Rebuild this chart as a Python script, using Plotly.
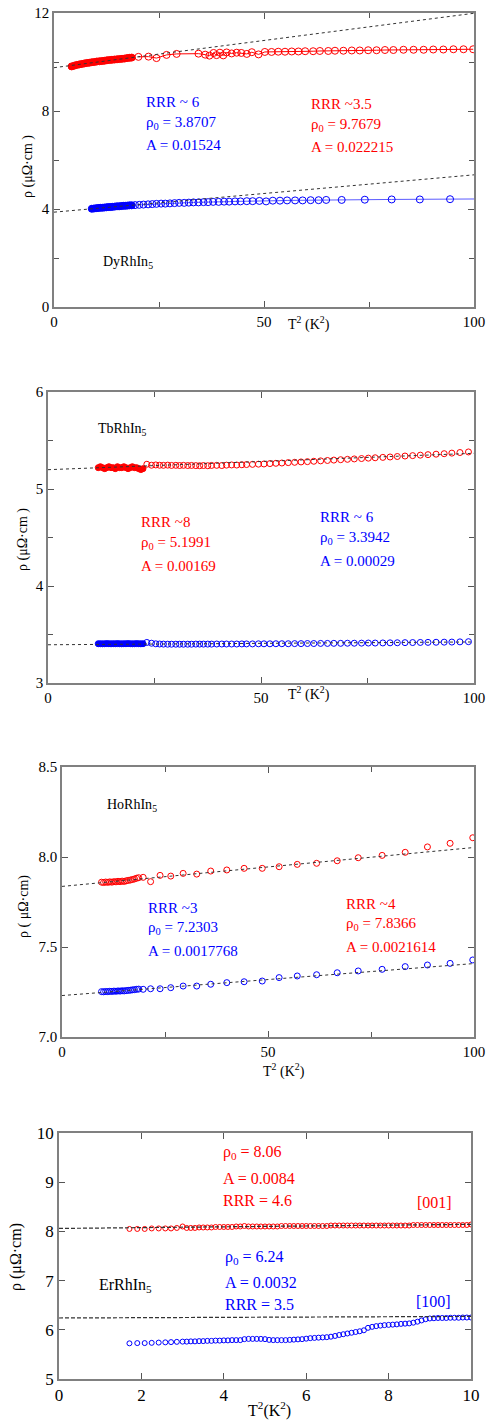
import plotly.graph_objects as go

W, H = 487, 1423
FONT = "Liberation Serif"
RED = "#ff0000"
BLUE = "#0000ff"

# ---------------- Panel 1: DyRhIn5 ----------------
dy_red_dense_x = [4.2, 4.8, 5.4, 6.0, 6.6, 7.2, 7.8, 8.4, 9.0, 9.6, 10.2, 10.8, 11.4, 12.0, 12.6,
                  13.2, 13.8, 14.4, 15.0, 15.6, 16.2, 16.8, 17.4, 18.0, 18.5]
dy_red_dense_y = [9.82, 9.85, 9.88, 9.90, 9.92, 9.94, 9.96, 9.97, 9.99, 10.00, 10.02, 10.03, 10.04, 10.05, 10.07,
                  10.08, 10.09, 10.10, 10.11, 10.12, 10.13, 10.14, 10.16, 10.17, 10.18]
dy_red_x = [20.1, 22.5, 24.4, 26.8, 29.2, 34.4, 36.0, 37.0, 38.0, 38.7, 39.5, 40.3, 41.1, 42.3,
            43.5, 44.6, 45.9, 47.1, 48.7, 50.2, 51.8, 53.4, 55.0, 56.6, 58.2, 59.8, 61.7, 63.3, 65.3, 66.9,
            68.9, 70.9, 72.8, 74.8, 76.8, 78.8, 80.8, 83.2, 85.6, 88.0, 90.3, 92.7, 95.1, 97.5, 99.8]
dy_red_y = [10.21, 10.22, 10.16, 10.29, 10.33, 10.34, 10.30, 10.26, 10.37, 10.28, 10.38, 10.27, 10.39, 10.35,
            10.38, 10.37, 10.33, 10.40, 10.31, 10.41, 10.41, 10.42, 10.42, 10.43, 10.43, 10.44, 10.44, 10.45, 10.45, 10.46,
            10.46, 10.47, 10.47, 10.48, 10.48, 10.49, 10.49, 10.50, 10.50, 10.50, 10.51, 10.51, 10.52, 10.52, 10.52]
dy_blue_dense_x = [9.0, 9.5, 10.0, 10.5, 11.0, 11.5, 12.0, 12.5, 13.0, 13.5, 14.0, 14.5, 15.0, 15.5, 16.0,
                   16.5, 17.0, 17.5, 18.0, 18.5]
dy_blue_dense_y = [4.01, 4.02, 4.03, 4.04, 4.05, 4.05, 4.06, 4.07, 4.08, 4.08, 4.09, 4.10, 4.11, 4.11, 4.12,
                   4.13, 4.13, 4.14, 4.15, 4.15]
dy_blue_x = [19.3, 20.3, 21.3, 22.4, 23.4, 24.4, 25.5, 26.5, 27.6, 28.7, 29.8, 31.0, 32.1, 33.2, 34.4,
             35.6, 36.7, 37.9, 39.2, 40.5, 41.7, 43.1, 44.4, 45.9, 47.3, 48.9, 50.5, 52.1, 53.8, 55.5,
             57.4, 59.2, 61.1, 63.0, 64.8, 68.5, 74.0, 80.4, 87.1, 94.3, 101.5]
dy_blue_y = [4.16, 4.17, 4.18, 4.19, 4.20, 4.21, 4.22, 4.22, 4.23, 4.24, 4.25, 4.25, 4.26, 4.27, 4.27,
             4.28, 4.28, 4.29, 4.29, 4.30, 4.30, 4.31, 4.31, 4.32, 4.32, 4.33, 4.31, 4.34, 4.34, 4.35,
             4.35, 4.35, 4.36, 4.36, 4.37, 4.37, 4.38, 4.39, 4.39, 4.40, 4.41]
dy_fit = {"red": (9.7679, 0.022215), "blue": (3.8707, 0.01524)}

# ---------------- Panel 2: TbRhIn5 ----------------
tb_dense_x = [11.8, 12.3, 12.8, 13.3, 13.8, 14.3, 14.8, 15.3, 15.8, 16.3, 16.8, 17.3, 17.8, 18.3, 18.8,
              19.3, 19.8, 20.3, 20.8, 21.3, 21.8, 22.3]
tb_red_dense_y = [5.22, 5.23, 5.22, 5.21, 5.22, 5.23, 5.22, 5.22, 5.21, 5.23, 5.22, 5.22, 5.23, 5.22, 5.21,
                  5.22, 5.23, 5.22, 5.22, 5.21, 5.20, 5.21]
tb_blue_dense_y = [3.405, 3.405, 3.404, 3.405, 3.406, 3.405, 3.404, 3.405, 3.405, 3.406, 3.405, 3.404, 3.405, 3.405, 3.406,
                   3.405, 3.404, 3.405, 3.406, 3.405, 3.404, 3.405]
tb_x = [23.2, 24.3, 25.3, 26.2, 27.1, 28.1, 29.0, 30.0, 30.9, 31.8, 32.8, 33.7, 34.7, 35.6, 36.5, 37.5, 38.4,
        39.6, 40.8, 41.9, 43.1, 44.3, 45.5, 46.6, 48.0, 49.4, 50.7, 52.1, 53.5, 54.9, 56.4, 57.9, 59.4, 60.9,
        62.4, 64.0, 65.6, 67.1, 68.7, 70.3, 71.9, 73.6, 75.2, 76.8, 78.6, 80.3, 82.0, 83.8, 85.6, 87.4, 89.2,
        91.1, 93.0, 94.8, 96.7, 98.7]
tb_red_y = [5.255, 5.245, 5.248, 5.245, 5.244, 5.246, 5.243, 5.244, 5.242, 5.244,
            5.242, 5.243, 5.241, 5.240, 5.242, 5.240, 5.243, 5.244, 5.242, 5.246,
            5.248, 5.247, 5.250, 5.252, 5.254, 5.256, 5.258, 5.262, 5.265, 5.268,
            5.272, 5.275, 5.279, 5.282, 5.286, 5.290, 5.294, 5.298, 5.302, 5.306,
            5.310, 5.314, 5.318, 5.322, 5.326, 5.330, 5.335, 5.340, 5.344, 5.349,
            5.354, 5.359, 5.364, 5.370, 5.376, 5.382]
tb_blue_y = [3.418, 3.410, 3.404, 3.402, 3.401, 3.400, 3.400, 3.400, 3.400, 3.400,
             3.400, 3.400, 3.401, 3.401, 3.401, 3.401, 3.401, 3.402, 3.402, 3.402,
             3.402, 3.402, 3.403, 3.403, 3.403, 3.404, 3.404, 3.404, 3.405, 3.405,
             3.405, 3.406, 3.406, 3.407, 3.407, 3.408, 3.408, 3.409, 3.409, 3.410,
             3.410, 3.411, 3.412, 3.412, 3.413, 3.414, 3.415, 3.416, 3.417, 3.418,
             3.419, 3.420, 3.421, 3.422, 3.424, 3.426]
tb_fit = {"red": (5.1991, 0.00169), "blue": (3.3942, 0.00029)}

# ---------------- Panel 3: HoRhIn5 ----------------
ho_dense_x = [9.6, 10.1, 10.6, 11.1, 11.6, 12.1, 12.6, 13.1, 13.6, 14.1, 14.6, 15.1, 15.6, 16.1, 16.6,
              17.1, 17.6, 18.1, 18.6]
ho_red_dense_y = [7.860, 7.858, 7.861, 7.859, 7.862, 7.860, 7.863, 7.862, 7.865, 7.863, 7.866, 7.864, 7.868,
                  7.870, 7.872, 7.875, 7.878, 7.882, 7.885]
ho_blue_dense_y = [7.252, 7.251, 7.253, 7.252, 7.254, 7.253, 7.255, 7.254, 7.256, 7.255, 7.257, 7.256, 7.258,
                   7.259, 7.260, 7.262, 7.263, 7.265, 7.266]
ho_x = [19.7, 21.5, 23.8, 26.4, 29.4, 32.7, 36.1, 40.0, 44.2, 48.6, 52.7, 57.1, 61.8, 66.8, 71.9, 77.7,
        83.3, 88.7, 94.2, 99.7]
ho_red_y = [7.887, 7.863, 7.898, 7.894, 7.909, 7.905, 7.922, 7.928, 7.937, 7.937, 7.946, 7.959, 7.965,
            7.979, 7.996, 8.009, 8.026, 8.056, 8.076, 8.107]
ho_blue_y = [7.265, 7.268, 7.268, 7.274, 7.283, 7.283, 7.293, 7.302, 7.307, 7.311, 7.330, 7.339, 7.346,
             7.357, 7.367, 7.376, 7.391, 7.400, 7.409, 7.428]
ho_fit = {"red": (7.8366, 0.0021614), "blue": (7.2303, 0.0017768)}

# ---------------- Panel 4: ErRhIn5 ----------------
er_x = [1.71, 1.90, 2.08, 2.25, 2.42, 2.58, 2.72, 2.86, 3.0,
        3.1, 3.2, 3.3, 3.4, 3.5, 3.6, 3.7, 3.8, 3.9, 4.0,
        4.1, 4.2, 4.3, 4.4, 4.5, 4.6, 4.7, 4.8, 4.9, 5.0,
        5.1, 5.2, 5.3, 5.4, 5.5, 5.6, 5.7, 5.8, 5.9, 6.0,
        6.1, 6.2, 6.3, 6.4, 6.5, 6.6, 6.7, 6.8, 6.9, 7.0,
        7.1, 7.2, 7.3, 7.4, 7.5, 7.6, 7.7, 7.8, 7.9, 8.0,
        8.1, 8.2, 8.3, 8.4, 8.5, 8.6, 8.7, 8.8, 8.9, 9.0,
        9.1, 9.2, 9.3, 9.4, 9.5, 9.6, 9.7, 9.8, 9.9, 10.0]
er_red_y = [8.05, 8.05, 8.05, 8.06, 8.06, 8.06, 8.06, 8.07, 8.10,
            8.07, 8.07, 8.07, 8.08, 8.08, 8.08, 8.08, 8.09, 8.09, 8.09,
            8.09, 8.09, 8.10, 8.10, 8.11, 8.10, 8.10, 8.10, 8.10, 8.10,
            8.10, 8.10, 8.10, 8.11, 8.11, 8.11, 8.11, 8.11, 8.11, 8.11,
            8.11, 8.11, 8.11, 8.11, 8.11, 8.12, 8.12, 8.12, 8.12, 8.12,
            8.12, 8.12, 8.12, 8.12, 8.12, 8.12, 8.12, 8.12, 8.12, 8.12,
            8.12, 8.12, 8.12, 8.12, 8.12, 8.13, 8.13, 8.13, 8.13, 8.13,
            8.13, 8.13, 8.13, 8.13, 8.13, 8.13, 8.13, 8.13, 8.13, 8.14]
er_blue_y = [5.725, 5.73, 5.73, 5.735, 5.74, 5.745, 5.75, 5.755, 5.76,
             5.76, 5.765, 5.765, 5.77, 5.77, 5.775, 5.775, 5.78, 5.78, 5.785,
             5.785, 5.79, 5.79, 5.79, 5.81, 5.815, 5.815, 5.815, 5.815, 5.81,
             5.795, 5.79, 5.79, 5.79, 5.79, 5.795, 5.80, 5.805, 5.81, 5.82,
             5.83, 5.835, 5.84, 5.845, 5.85, 5.86, 5.875, 5.895, 5.91, 5.925,
             5.94, 5.955, 5.97, 5.99, 6.04, 6.06, 6.075, 6.085, 6.095, 6.10,
             6.105, 6.11, 6.12, 6.125, 6.13, 6.145, 6.165, 6.19, 6.215, 6.23,
             6.235, 6.24, 6.24, 6.24, 6.245, 6.245, 6.245, 6.25, 6.25, 6.25]
er_fit = {"red": (8.06, 0.0084), "blue": (6.24, 0.0032)}

# ---------------- layout geometry (pixels) ----------------
panels = [
    dict(l=54, r=474, t=13, b=307, xr=[0, 100], yr=[0, 12], xd=50, xm=25, yd=4, ym=2, yfmt="", fs=15),
    dict(l=48, r=474, t=392, b=683, xr=[0, 100], yr=[3, 6], xd=50, xm=25, yd=1, ym=0.5, yfmt="", fs=15),
    dict(l=62, r=474, t=767, b=1037, xr=[0, 100], yr=[7, 8.5], xd=50, xm=25, yd=0.5, ym=None, yfmt=".1f", fs=15),
    dict(l=59, r=471, t=1133, b=1379, xr=[0, 10], yr=[5, 10], xd=2, xm=None, yd=1, ym=None, yfmt="", fs=17),
]


def pxx(x):
    return x / W


def pxy(y):
    return 1 - y / H


fig = go.Figure()


def axname(i, a):
    return a if i == 0 else f"{a}{i + 1}"


def add(i, x, y, color, size, filled=False, line=None, mode="markers"):
    fig.add_trace(go.Scatter(
        x=x, y=y, mode=mode, xaxis=axname(i, "x"), yaxis=axname(i, "y"),
        marker=dict(symbol="circle" if filled else "circle-open", size=size, color=color,
                    line=dict(width=1, color=color)),
        line=dict(color=line or color, width=1), showlegend=False, hoverinfo="skip"))


def add_fit(i, rho0, a, xr, dash="dot", width=1):
    xs = [xr[0], xr[1]]
    ys = [rho0 + a * xs[0], rho0 + a * xs[1]]
    fig.add_trace(go.Scatter(x=xs, y=ys, mode="lines", xaxis=axname(i, "x"), yaxis=axname(i, "y"),
                             line=dict(color="#333333", width=width, dash=dash),
                             showlegend=False, hoverinfo="skip"))


# Panel 1
add(0, dy_red_dense_x, dy_red_dense_y, RED, 7, filled=True, mode="lines+markers")
add(0, dy_red_x, dy_red_y, RED, 7, mode="lines+markers")
add(0, dy_blue_dense_x, dy_blue_dense_y, BLUE, 7, filled=True, mode="lines+markers")
add(0, dy_blue_x, dy_blue_y, BLUE, 7, line="#5a5aff", mode="lines+markers")
add_fit(0, *dy_fit["red"], [0, 100])
add_fit(0, *dy_fit["blue"], [0, 100])

# Panel 2
add(1, tb_dense_x, tb_red_dense_y, RED, 6, filled=True)
add(1, tb_x, tb_red_y, RED, 6)
add(1, tb_dense_x, tb_blue_dense_y, BLUE, 6, filled=True)
add(1, tb_x, tb_blue_y, BLUE, 6)
add_fit(1, *tb_fit["red"], [0, 100])
add_fit(1, *tb_fit["blue"], [0, 100])

# Panel 3
add(2, ho_dense_x, ho_red_dense_y, RED, 6)
add(2, ho_x, ho_red_y, RED, 6)
add(2, ho_dense_x, ho_blue_dense_y, BLUE, 6)
add(2, ho_x, ho_blue_y, BLUE, 6)
add_fit(2, *ho_fit["red"], [0, 100])
add_fit(2, *ho_fit["blue"], [0, 100])

# Panel 4
add(3, er_x, er_red_y, RED, 5)
add(3, er_x, er_blue_y, BLUE, 5)
add_fit(3, *er_fit["red"], [0, 10], dash="4px,2px", width=1.2)
add_fit(3, *er_fit["blue"], [0, 10], dash="4px,2px", width=1.2)

layout = dict(width=W, height=H, margin=dict(l=0, r=0, t=0, b=0, pad=0, autoexpand=False),
              paper_bgcolor="white", plot_bgcolor="white",
              font=dict(family=FONT, color="black", size=15), showlegend=False)

for i, p in enumerate(panels):
    common = dict(showline=True, linecolor="#808080", linewidth=1.5, mirror="ticks",
                  ticks="inside", ticklen=6, tickcolor="#555555", tickwidth=1, automargin=False,
                  showgrid=False, zeroline=False, tickfont=dict(family=FONT, size=p["fs"], color="black"))
    xa = dict(common, domain=[pxx(p["l"]), pxx(p["r"])], range=p["xr"], dtick=p["xd"], tick0=0,
              anchor=axname(i, "y"))
    if p["xm"]:
        xa["minor"] = dict(dtick=p["xm"], ticks="inside", ticklen=5, tickcolor="#555555", showgrid=False)
    ya = dict(common, domain=[pxy(p["b"]), pxy(p["t"])], range=p["yr"], dtick=p["yd"], tick0=0,
              anchor=axname(i, "x"))
    if p["yfmt"]:
        ya["tickformat"] = p["yfmt"]
    if p["ym"]:
        ya["minor"] = dict(dtick=p["ym"], ticks="inside", ticklen=5, tickcolor="#555555", showgrid=False)
    layout["xaxis" if i == 0 else f"xaxis{i + 1}"] = xa
    layout["yaxis" if i == 0 else f"yaxis{i + 1}"] = ya

annotations = []


def note(x, y, text, color="black", size=15, angle=0, xanchor="left"):
    annotations.append(dict(x=pxx(x), y=pxy(y), xref="paper", yref="paper", text=text, showarrow=False,
                            xanchor=xanchor, yanchor="middle", textangle=angle,
                            font=dict(family=FONT, size=size, color=color)))


# Panel 1 texts
note(144, 102, "RRR ~ 6", BLUE)
note(144, 123, "ρ<sub>0</sub> = 3.8707", BLUE)
note(144, 145, "A = 0.01524", BLUE)
note(309, 104, "RRR ~3.5", RED)
note(309, 125, "ρ<sub>0</sub> = 9.7679", RED)
note(309, 147, "A = 0.022215", RED)
note(101, 262, "DyRhIn<sub>5</sub>", "black", 14)
note(28, 167, "ρ (μΩ·cm )", "black", 14, -90, "center")
note(309, 323, "T<sup>2</sup> (K<sup>2</sup>)", "black", 14, 0, "center")

# Panel 2 texts
note(96, 429, "TbRhIn<sub>5</sub>", "black", 14)
note(139, 522, "RRR ~8", RED)
note(139, 543, "ρ<sub>0</sub> = 5.1991", RED)
note(139, 566, "A = 0.00169", RED)
note(318, 517, "RRR ~ 6", BLUE)
note(318, 538, "ρ<sub>0</sub> = 3.3942", BLUE)
note(318, 561, "A = 0.00029", BLUE)
note(23, 540, "ρ (μΩ·cm )", "black", 14, -90, "center")
note(309, 693, "T<sup>2</sup> (K<sup>2</sup>)", "black", 14, 0, "center")

# Panel 3 texts
note(105, 805, "HoRhIn<sub>5</sub>", "black", 14)
note(146, 908, "RRR ~3", BLUE)
note(146, 928, "ρ<sub>0</sub> = 7.2303", BLUE)
note(146, 951, "A = 0.0017768", BLUE)
note(344, 904, "RRR ~4", RED)
note(344, 924, "ρ<sub>0</sub> = 7.8366", RED)
note(344, 947, "A = 0.0021614", RED)
note(24, 907, "ρ ( μΩ·cm)", "black", 14, -90, "center")
note(284, 1070, "T<sup>2</sup> (K<sup>2</sup>)", "black", 14, 0, "center")

# Panel 4 texts
note(221, 1152, "ρ<sub>0</sub> = 8.06", RED, 16)
note(221, 1178, "A = 0.0084", RED, 16)
note(221, 1200, "RRR = 4.6", RED, 16)
note(415, 1202, "[001]", RED, 16)
note(223, 1257, "ρ<sub>0</sub> = 6.24", BLUE, 16)
note(223, 1282, "A = 0.0032", BLUE, 16)
note(223, 1304, "RRR = 3.5", BLUE, 16)
note(414, 1301, "[100]", BLUE, 16)
note(97, 1285, "ErRhIn<sub>5</sub>", "black", 16)
note(16, 1257, "ρ (μΩ·cm)", "black", 16, -90, "center")
note(269, 1409, "T<sup>2</sup>(K<sup>2</sup>)", "black", 16, 0, "center")

layout["annotations"] = annotations
fig.update_layout(**layout)

fig.write_html(
    "out.html",
    post_script="document.documentElement.style.margin='0';document.body.style.margin='0';"
                "document.body.style.overflow='hidden';document.documentElement.style.overflow='hidden';",
)
